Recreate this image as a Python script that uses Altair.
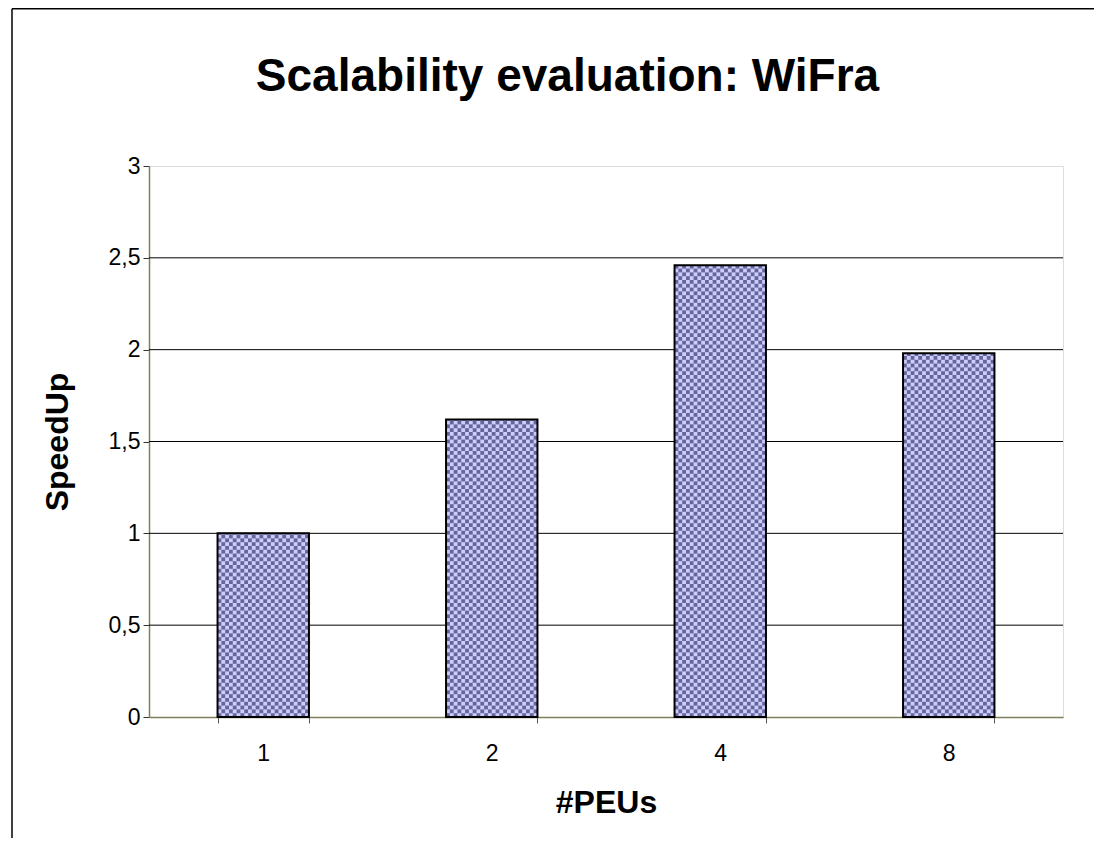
import math
import altair as alt
import pandas as pd

# ---- data ----
categories = ["1", "2", "4", "8"]
speedup = [1.0, 1.62, 2.46, 1.98]
y_ticks = [0, 0.5, 1, 1.5, 2, 2.5, 3]
grid_values = [0.5, 1, 1.5, 2, 2.5]
title_text = "Scalability evaluation: WiFra"

FONT = "Liberation Sans, Arial, sans-serif"

bars = pd.DataFrame({"peus": categories, "speedup": speedup})
grid = pd.DataFrame({"g": grid_values})

# checkerboard texture cells derived from the bar values
n_cols = 24
cell = 3 * 3.8 / 551
rows = []
for cat, v in zip(categories, speedup):
    n_rows = math.ceil(v / cell - 1e-9)
    for r in range(n_rows):
        y0 = r * cell
        y1 = min((r + 1) * cell, v)
        for c in range(n_cols):
            if (r + c) % 2 == 0:
                rows.append({"peus": cat, "col": c, "y0": y0, "y1": y1})
cells = pd.DataFrame(rows)

x_axis = alt.Axis(
    title="#PEUs", labelAngle=0, tickBand="extent", tickSize=6, tickColor="#555555",
    domainColor="#7f7f5a", domainWidth=1.5, labelFontSize=23, labelFont=FONT,
    labelColor="black", labelPadding=19, titleFontSize=32, titleFont=FONT,
    titleFontWeight="bold", titleColor="black", titleBaseline="alphabetic",
    titleY=95, grid=False,
)
x_enc = alt.X("peus:N", sort=categories,
              scale=alt.Scale(paddingInner=0.6, paddingOuter=0.3), axis=x_axis)

y_axis = alt.Axis(
    title="SpeedUp", values=y_ticks,
    labelExpr="replace(format(datum.value, '~g'), '.', ',')",
    tickSize=6, tickColor="#333333", domainColor="#7f7f5a", domainWidth=1.5,
    labelFontSize=23, labelFont=FONT, labelColor="black", labelPadding=3,
    titleFontSize=32, titleFont=FONT, titleFontWeight="bold", titleColor="black",
    titleBaseline="alphabetic", titleX=-82, titleY=275.5, titleAngle=-90,
    titleAlign="center", grid=False,
)
y_scale = alt.Scale(domain=[0, 3], nice=False)

gridlines = alt.Chart(grid).mark_rule(color="black", strokeWidth=1).encode(
    y=alt.Y("g:Q", scale=y_scale, axis=y_axis)
)

base = alt.Chart(bars).mark_bar(fill="#ccccff", strokeWidth=0).encode(
    x=x_enc, y=alt.Y("speedup:Q", scale=y_scale, axis=y_axis)
)

checker = alt.Chart(cells).mark_rect(fill="#666699", strokeWidth=0).encode(
    x=x_enc,
    xOffset=alt.XOffset("col:O", scale=alt.Scale(paddingInner=0, paddingOuter=0)),
    y=alt.Y("y0:Q", scale=y_scale, axis=y_axis),
    y2="y1:Q",
)

outline = alt.Chart(bars).mark_bar(fillOpacity=0, stroke="black", strokeWidth=2).encode(
    x=x_enc, y=alt.Y("speedup:Q", scale=y_scale, axis=y_axis)
)

frame_df = pd.DataFrame({"z": [0]})
frame_left = alt.Chart(frame_df).mark_rule(color="black", strokeWidth=1.5).encode(
    x=alt.value(-137), y=alt.value(-157.2), y2=alt.value(672)
)
frame_top = alt.Chart(frame_df).mark_rule(color="black", strokeWidth=1.5).encode(
    x=alt.value(-137), x2=alt.value(945), y=alt.value(-157.2)
)
title = alt.Chart(frame_df).mark_text(
    text=title_text, fontSize=46, font=FONT, fontWeight="bold", color="black",
    align="center", baseline="alphabetic",
).encode(x=alt.value(418.5), y=alt.value(-75))

chart = alt.layer(frame_left, frame_top, title, gridlines, base, checker, outline).properties(
    width=914, height=551,
    padding={"left": 141, "top": 158, "right": 31, "bottom": 121},
    autosize=alt.AutoSizeParams(type="none"),
).configure_view(stroke="#ffffcc", strokeWidth=2).configure(background="white")

chart.save("out.html", embed_options={"renderer": "svg", "actions": False})
